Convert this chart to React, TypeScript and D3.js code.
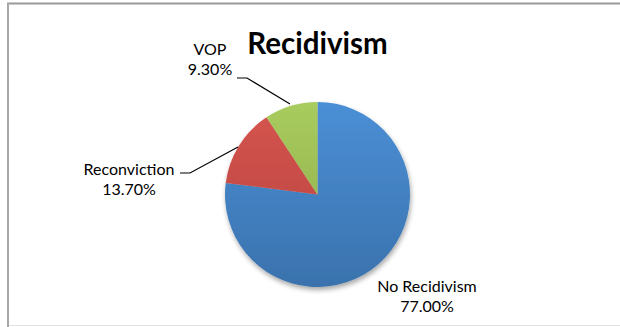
import React from "react";
import * as d3 from "d3";

const categories = ["No Recidivism", "Reconviction", "VOP"];
const values = [77.0, 13.7, 9.3];
const valueLabels = ["77.00%", "13.70%", "9.30%"];
const title = "Recidivism";

const W = 620;
const H = 327;
const cx = 317.5;
const cy = 194.5;
const R = 92.5;

const grads = [
  { id: "gBlue", top: "#4b8fd6", bottom: "#3a72ad" },
  { id: "gRed", top: "#d6554f", bottom: "#b5423d" },
  { id: "gGreen", top: "#a9cc5e", bottom: "#8aa948" },
];

const labelPos = [
  { x: 427, y: 292, line: null as null | [number, number][] },
  { x: 129, y: 175, line: [[180, 173], [190, 173], [238, 147]] as [number, number][] },
  { x: 210, y: 55, line: [[237, 78], [247, 78], [290, 104]] as [number, number][] },
];

export default function App() {
  const pie = d3.pie<number>().sort(null).value((d) => d);
  const arcs = pie(values);
  const arcGen = d3.arc<d3.PieArcDatum<number>>().innerRadius(0).outerRadius(R);
  const lineGen = d3.line();
  const font = "Lato, 'Open Sans', sans-serif";
  return (
    <svg width={W} height={H} style={{ position: "absolute", left: 0, top: 0 }}>
      <defs>
        {grads.map((g) => (
          <linearGradient key={g.id} id={g.id} x1="0" y1={-R} x2="0" y2={R} gradientUnits="userSpaceOnUse">
            <stop offset="0" stopColor={g.top} />
            <stop offset="1" stopColor={g.bottom} />
          </linearGradient>
        ))}
        <filter id="shadow" x="-20%" y="-20%" width="140%" height="140%">
          <feGaussianBlur in="SourceAlpha" stdDeviation="2.5" />
          <feOffset dx="1" dy="3" result="b" />
          <feComponentTransfer>
            <feFuncA type="linear" slope="0.35" />
          </feComponentTransfer>
          <feMerge>
            <feMergeNode />
            <feMergeNode in="SourceGraphic" />
          </feMerge>
        </filter>
      </defs>
      <rect x={0} y={0} width={W} height={H} fill="#fff" />
      <line x1={7} y1={3.5} x2={W} y2={3.5} stroke="#999" strokeWidth={2} />
      <line x1={8} y1={3} x2={8} y2={H} stroke="#a8a8a8" strokeWidth={2} />
      <line x1={9} y1={325.5} x2={W} y2={325.5} stroke="#e2e2e2" strokeWidth={1} />
      <text x={cx} y={54} textAnchor="middle" fontFamily={font} fontWeight="bold" fontSize={29.5} fill="#000">
        {title}
      </text>
      <g transform={`translate(${cx},${cy})`} filter="url(#shadow)">
        {arcs.map((a, i) => (
          <path key={categories[i]} d={arcGen(a) || ""} fill={`url(#${grads[i].id})`} />
        ))}
      </g>
      {labelPos.map((p, i) =>
        p.line ? <path key={"l" + i} d={lineGen(p.line) || ""} fill="none" stroke="#000" strokeWidth={1.2} /> : null
      )}
      {labelPos.map((p, i) => (
        <text key={"t" + i} x={p.x} y={p.y} textAnchor="middle" fontFamily={font} fontSize={16} fill="#000">
          <tspan x={p.x}>{categories[i]}</tspan>
          <tspan x={p.x} dy={20}>{valueLabels[i]}</tspan>
        </text>
      ))}
    </svg>
  );
}
